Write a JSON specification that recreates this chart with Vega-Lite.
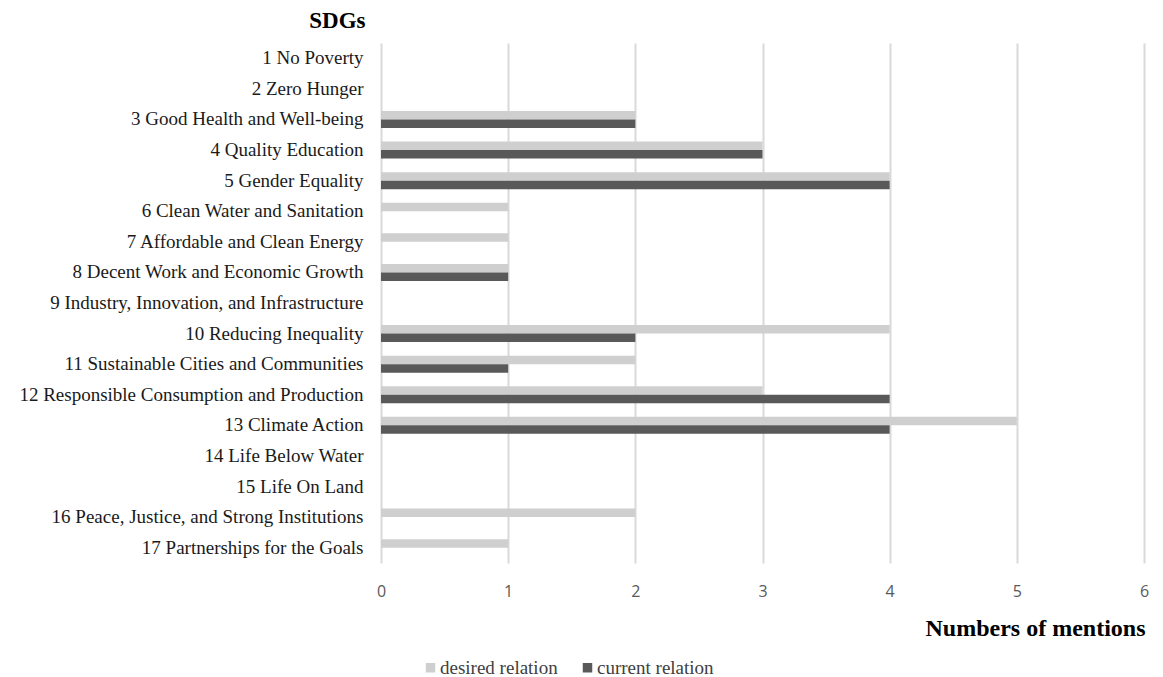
{
  "$schema": "https://vega.github.io/schema/vega-lite/v6.json",
  "width": 763,
  "height": 520,
  "autosize": {"type": "none"},
  "padding": {"left": 381, "top": 43, "right": 19, "bottom": 114},
  "background": "#ffffff",
  "data": {
    "values": [
      {"sdg": "1 No Poverty", "relation": "desired relation", "mentions": 0},
      {"sdg": "1 No Poverty", "relation": "current relation", "mentions": 0},
      {"sdg": "2 Zero Hunger", "relation": "desired relation", "mentions": 0},
      {"sdg": "2 Zero Hunger", "relation": "current relation", "mentions": 0},
      {"sdg": "3 Good Health and Well-being", "relation": "desired relation", "mentions": 2},
      {"sdg": "3 Good Health and Well-being", "relation": "current relation", "mentions": 2},
      {"sdg": "4 Quality Education", "relation": "desired relation", "mentions": 3},
      {"sdg": "4 Quality Education", "relation": "current relation", "mentions": 3},
      {"sdg": "5 Gender Equality", "relation": "desired relation", "mentions": 4},
      {"sdg": "5 Gender Equality", "relation": "current relation", "mentions": 4},
      {"sdg": "6 Clean Water and Sanitation", "relation": "desired relation", "mentions": 1},
      {"sdg": "6 Clean Water and Sanitation", "relation": "current relation", "mentions": 0},
      {"sdg": "7 Affordable and Clean Energy", "relation": "desired relation", "mentions": 1},
      {"sdg": "7 Affordable and Clean Energy", "relation": "current relation", "mentions": 0},
      {"sdg": "8 Decent Work and Economic Growth", "relation": "desired relation", "mentions": 1},
      {"sdg": "8 Decent Work and Economic Growth", "relation": "current relation", "mentions": 1},
      {"sdg": "9 Industry, Innovation, and Infrastructure", "relation": "desired relation", "mentions": 0},
      {"sdg": "9 Industry, Innovation, and Infrastructure", "relation": "current relation", "mentions": 0},
      {"sdg": "10 Reducing Inequality", "relation": "desired relation", "mentions": 4},
      {"sdg": "10 Reducing Inequality", "relation": "current relation", "mentions": 2},
      {"sdg": "11 Sustainable Cities and Communities", "relation": "desired relation", "mentions": 2},
      {"sdg": "11 Sustainable Cities and Communities", "relation": "current relation", "mentions": 1},
      {"sdg": "12 Responsible Consumption and Production", "relation": "desired relation", "mentions": 3},
      {"sdg": "12 Responsible Consumption and Production", "relation": "current relation", "mentions": 4},
      {"sdg": "13 Climate Action", "relation": "desired relation", "mentions": 5},
      {"sdg": "13 Climate Action", "relation": "current relation", "mentions": 4},
      {"sdg": "14 Life Below Water", "relation": "desired relation", "mentions": 0},
      {"sdg": "14 Life Below Water", "relation": "current relation", "mentions": 0},
      {"sdg": "15 Life On Land", "relation": "desired relation", "mentions": 0},
      {"sdg": "15 Life On Land", "relation": "current relation", "mentions": 0},
      {"sdg": "16 Peace, Justice, and Strong Institutions", "relation": "desired relation", "mentions": 2},
      {"sdg": "16 Peace, Justice, and Strong Institutions", "relation": "current relation", "mentions": 0},
      {"sdg": "17 Partnerships for the Goals", "relation": "desired relation", "mentions": 1},
      {"sdg": "17 Partnerships for the Goals", "relation": "current relation", "mentions": 0}
    ]
  },
  "mark": {"type": "bar", "cornerRadius": 0},
  "encoding": {
    "y": {
      "field": "sdg",
      "type": "nominal",
      "sort": null,
      "scale": {"paddingInner": 0.444, "paddingOuter": 0.222},
      "axis": {
        "title": "SDGs",
        "titleAngle": 0,
        "titleAlign": "right",
        "titleBaseline": "alphabetic",
        "titleX": -16,
        "titleY": -16,
        "titleFont": "Liberation Serif",
        "titleFontSize": 23,
        "titleFontWeight": "bold",
        "titleColor": "#000000",
        "labelFont": "Liberation Serif",
        "labelFontSize": 19,
        "labelColor": "#1a1a1a",
        "labelPadding": 18,
        "labelLimit": 400,
        "ticks": false,
        "domain": false,
        "grid": false
      }
    },
    "yOffset": {
      "field": "relation",
      "type": "nominal",
      "sort": ["desired relation", "current relation"]
    },
    "x": {
      "field": "mentions",
      "type": "quantitative",
      "scale": {"domain": [0, 6], "nice": false},
      "axis": {
        "title": "Numbers of mentions",
        "values": [0, 1, 2, 3, 4, 5, 6],
        "format": "d",
        "labelFlush": false,
        "titleAnchor": "end",
        "titleAlign": "right",
        "titleBaseline": "middle",
        "titleX": 764,
        "titleY": 65,
        "titleFont": "Liberation Serif",
        "titleFontSize": 24,
        "titleFontWeight": "bold",
        "titleColor": "#000000",
        "labelFont": "Open Sans",
        "labelFontSize": 16,
        "labelColor": "#595959",
        "labelPadding": 20,
        "ticks": false,
        "domain": false,
        "grid": true,
        "gridColor": "#d9d9d9",
        "gridWidth": 2
      }
    },
    "color": {
      "field": "relation",
      "type": "nominal",
      "scale": {
        "domain": ["desired relation", "current relation"],
        "range": ["#d0cfd0", "#595959"]
      },
      "legend": {
        "title": null,
        "orient": "none",
        "direction": "horizontal",
        "legendX": 40,
        "legendY": 615,
        "symbolType": "square",
        "symbolSize": 90,
        "symbolStrokeWidth": 0,
        "labelFont": "Liberation Serif",
        "labelFontSize": 19,
        "labelColor": "#404040",
        "labelOffset": 0,
        "columnPadding": 20,
        "padding": 0
      }
    }
  },
  "config": {
    "view": {"stroke": null}
  }
}
